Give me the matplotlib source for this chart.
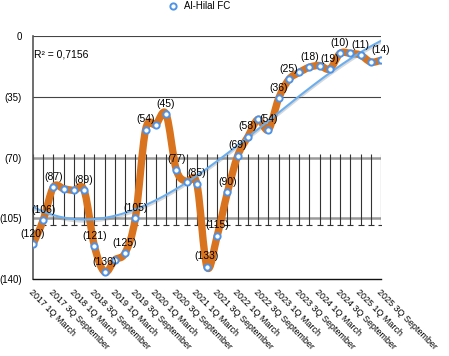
import numpy as np
import matplotlib
matplotlib.use("Agg")
import matplotlib.pyplot as plt
from matplotlib.path import Path
from matplotlib.patches import PathPatch
from matplotlib.lines import Line2D
import matplotlib.patheffects as pe

plt.rcParams['font.family'] = ['Liberation Sans', 'DejaVu Sans']

# league rank per quarter, 2017 1Q .. 2025 3Q
RANKS = [120, 106, 87, 88, 89, 89, 121, 136, 129, 125, 105, 54, 51, 45, 77, 84, 85,
         133, 115, 90, 69, 58, 48, 54, 36, 25, 21, 18, 17, 19, 10, 10, 11, 15, 14]
# points that carry a value label
LABELED = [0, 1, 2, 5, 6, 7, 9, 10, 11, 13, 14, 16, 17, 18, 19, 20, 21, 23, 24, 25,
           27, 29, 30, 32, 34]
TICK_LABELS = ["2017 1Q March", "2017 3Q September", "2018 1Q March", "2018 3Q September",
               "2019 1Q March", "2019 3Q September", "2020 1Q March", "2020 3Q September",
               "2021 1Q March", "2021 3Q September", "2022 1Q March", "2022 3Q September",
               "2023 1Q March", "2023 3Q September", "2024 1Q March", "2024 3Q September",
               "2025 1Q March", "2025 3Q September"]
YTICKS = [0, 35, 70, 105, 140]
SERIES = "Al-Hilal FC"
R2_TEXT = "R\u00b2 = 0,7156"

ORANGE = '#D9731D'
BLUE = '#4E93E6'
TREND = '#6AAEF0'


def smooth_path(x, y):
    # catmull-rom style bezier through the points
    verts = [(x[0], y[0])]
    codes = [Path.MOVETO]
    n = len(x)
    for i in range(n - 1):
        x0, y0 = (x[i - 1], y[i - 1]) if i > 0 else (x[i], y[i])
        x3, y3 = (x[i + 2], y[i + 2]) if i < n - 2 else (x[i + 1], y[i + 1])
        c1 = (x[i] + (x[i + 1] - x0) / 6, y[i] + (y[i + 1] - y0) / 6)
        c2 = (x[i + 1] - (x3 - x[i]) / 6, y[i + 1] - (y3 - y[i]) / 6)
        verts += [c1, c2, (x[i + 1], y[i + 1])]
        codes += [Path.CURVE4] * 3
    return Path(verts, codes)


x = np.arange(len(RANKS))
y = np.array(RANKS, dtype=float)

fig = plt.figure(figsize=(4.49, 3.56), dpi=100)
ax = fig.add_axes([33 / 449, 1 - 279 / 356, 348 / 449, 243 / 356])

# grid lines
for v in YTICKS[:2]:
    ax.axhline(v, color='#444444', lw=0.8, zorder=1)
for v in YTICKS[2:4]:
    ax.axhline(v, color='#9a9a9a', lw=1.8, zorder=1)

# vertical bars between (70) and (105)
ax.vlines(x, 68, 109, color='#333333', lw=0.8, zorder=1)
ax.plot(x, np.full(len(x), 109), ls='none', marker='_', ms=4, mew=0.8, color='#333333', zorder=1)

ax.add_patch(PathPatch(smooth_path(x, y), facecolor='none', edgecolor=ORANGE, lw=5.3,
                       capstyle='round', joinstyle='round', zorder=2))

# cubic trend line
coef = np.polyfit(x, y, 3)
xs = np.linspace(x[0], x[-1], 200)
ax.plot(xs, np.polyval(coef, xs), color=TREND, lw=1.5, zorder=3,
        path_effects=[pe.SimpleLineShadow(offset=(0, -1.5), shadow_color='gray', alpha=0.3), pe.Normal()])

ax.plot(x, y, ls='none', marker='o', ms=4.5, mfc='white', mec=BLUE, mew=1.4, zorder=4)

for i in LABELED:
    ax.annotate(f"({RANKS[i]})", (x[i], y[i]), xytext=(0, 7.5), textcoords='offset points',
                ha='center', va='center', fontsize=7.5, zorder=5)

ax.text(0.05, 10.8, R2_TEXT, fontsize=7.5, va='center', ha='left')

ax.set_xlim(0, len(RANKS) - 1)
ax.set_ylim(140, 0)
ax.set_yticks(YTICKS)
ax.set_yticklabels(["0" if v == 0 else f"({v})" for v in YTICKS], fontsize=7)
ax.set_xticks(x[::2])
ax.set_xticklabels(TICK_LABELS, rotation=-45, ha='left', va='top', rotation_mode='anchor', fontsize=6.5)
ax.tick_params(length=0)
ax.tick_params(axis='y', pad=8)
ax.tick_params(axis='x', pad=6)

for s in ['top', 'right']:
    ax.spines[s].set_visible(False)
ax.spines['left'].set_color('#555555')
ax.spines['left'].set_linewidth(1.2)
ax.spines['bottom'].set_color('#111111')
ax.spines['bottom'].set_linewidth(1.0)

handle = Line2D([], [], ls='none', marker='o', ms=4.5, mfc='white', mec=BLUE, mew=1.4)
fig.legend([handle], [SERIES], loc='center left', bbox_to_anchor=(168 / 449, 1 - 6 / 356),
           frameon=False, handlelength=1, handletextpad=0.6, borderpad=0, borderaxespad=0,
           fontsize=7)

fig.savefig("out.png", dpi=100)
